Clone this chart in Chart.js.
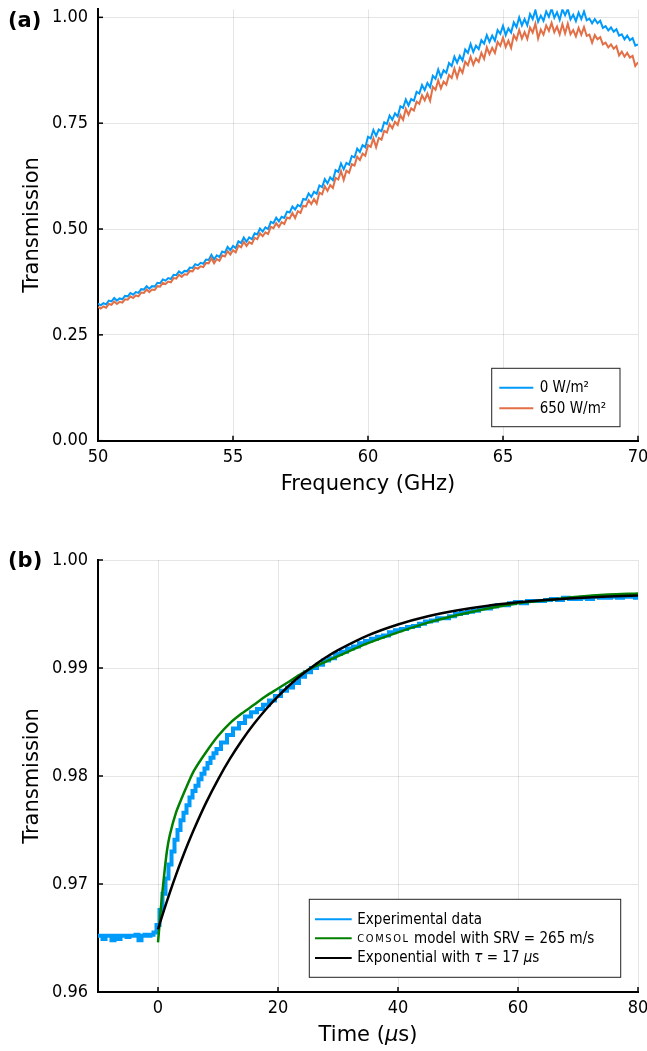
<!DOCTYPE html>
<html>
<head>
<meta charset="utf-8">
<title>Transmission</title>
<script src="https://cdn.jsdelivr.net/npm/chart.js@4/dist/chart.umd.min.js"></script>
<style>
  html,body{margin:0;padding:0;background:#fff;}
  canvas{display:block;}
</style>
</head>
<body>
<canvas id="chartA" width="647" height="520"></canvas>
<canvas id="chartB" width="647" height="531"></canvas>
<script>
/* ---- panel (a): frequency sweep ---- */
const freqGHz = [
  50.0,50.1,50.2,50.3,50.4,50.5,50.6,50.7,50.8,50.9,
  51.0,51.1,51.2,51.3,51.4,51.5,51.6,51.7,51.8,51.9,
  52.0,52.1,52.2,52.3,52.4,52.5,52.6,52.7,52.8,52.9,
  53.0,53.1,53.2,53.3,53.4,53.5,53.6,53.7,53.8,53.9,
  54.0,54.1,54.2,54.3,54.4,54.5,54.6,54.7,54.8,54.9,
  55.0,55.1,55.2,55.3,55.4,55.5,55.6,55.7,55.8,55.9,
  56.0,56.1,56.2,56.3,56.4,56.5,56.6,56.7,56.8,56.9,
  57.0,57.1,57.2,57.3,57.4,57.5,57.6,57.7,57.8,57.9,
  58.0,58.1,58.2,58.3,58.4,58.5,58.6,58.7,58.8,58.9,
  59.0,59.1,59.2,59.3,59.4,59.5,59.6,59.7,59.8,59.9,
  60.0,60.1,60.2,60.3,60.4,60.5,60.6,60.7,60.8,60.9,
  61.0,61.1,61.2,61.3,61.4,61.5,61.6,61.7,61.8,61.9,
  62.0,62.1,62.2,62.3,62.4,62.5,62.6,62.7,62.8,62.9,
  63.0,63.1,63.2,63.3,63.4,63.5,63.6,63.7,63.8,63.9,
  64.0,64.1,64.2,64.3,64.4,64.5,64.6,64.7,64.8,64.9,
  65.0,65.1,65.2,65.3,65.4,65.5,65.6,65.7,65.8,65.9,
  66.0,66.1,66.2,66.3,66.4,66.5,66.6,66.7,66.8,66.9,
  67.0,67.1,67.2,67.3,67.4,67.5,67.6,67.7,67.8,67.9,
  68.0,68.1,68.2,68.3,68.4,68.5,68.6,68.7,68.8,68.9,
  69.0,69.1,69.2,69.3,69.4,69.5,69.6,69.7,69.8,69.9,
  70.0
];
const trans0W = [
  .324,.320,.325,.322,.331,.329,.337,.331,.336,.334,
  .342,.341,.349,.345,.351,.349,.358,.357,.365,.359,
  .365,.364,.373,.372,.381,.378,.384,.382,.392,.391,
  .400,.395,.401,.400,.409,.408,.417,.414,.420,.418,
  .428,.427,.439,.428,.438,.434,.447,.444,.458,.450,
  .460,.455,.471,.467,.480,.470,.480,.476,.490,.487,
  .501,.494,.504,.500,.517,.514,.527,.518,.529,.526,
  .541,.539,.553,.546,.557,.553,.571,.569,.584,.576,
  .588,.583,.603,.599,.618,.608,.622,.615,.639,.635,
  .655,.641,.656,.652,.672,.669,.690,.682,.698,.693,
  .718,.714,.734,.720,.735,.731,.752,.748,.768,.758,
  .773,.766,.790,.786,.806,.792,.807,.803,.824,.820,
  .840,.828,.845,.835,.862,.855,.877,.859,.875,.869,
  .892,.885,.907,.893,.909,.898,.924,.916,.937,.918,
  .933,.925,.946,.938,.958,.942,.957,.945,.970,.961,
  .980,.958,.974,.964,.988,.977,1.000,.981,.996,.981,
  1.008,.996,1.017,.990,1.004,.992,1.014,1.001,1.021,.999,
  1.012,.994,1.019,1.005,1.020,.995,1.006,.991,1.011,.996,
  1.014,.993,.997,.986,.996,.986,.992,.975,.979,.969,
  .976,.966,.972,.957,.960,.948,.957,.946,.951,.933,
  .936
];
const trans650W = [
  .316,.312,.317,.314,.323,.321,.329,.323,.328,.326,
  .334,.333,.341,.337,.343,.341,.350,.349,.357,.351,
  .357,.356,.365,.364,.373,.370,.376,.374,.384,.383,
  .392,.387,.393,.392,.401,.400,.409,.406,.412,.410,
  .420,.419,.431,.419,.429,.425,.438,.435,.448,.440,
  .450,.445,.461,.457,.470,.460,.469,.465,.479,.476,
  .490,.483,.492,.488,.505,.502,.514,.505,.516,.512,
  .527,.525,.538,.526,.542,.538,.555,.553,.568,.559,
  .571,.560,.586,.582,.601,.590,.604,.597,.621,.617,
  .637,.616,.638,.633,.653,.650,.671,.663,.678,.673,
  .698,.694,.714,.693,.715,.711,.732,.728,.748,.738,
  .753,.746,.769,.758,.784,.770,.785,.780,.801,.796,
  .816,.804,.820,.803,.836,.829,.851,.832,.848,.841,
  .864,.857,.879,.858,.880,.869,.895,.887,.907,.888,
  .903,.895,.916,.902,.929,.913,.928,.916,.942,.933,
  .952,.930,.945,.928,.958,.947,.970,.950,.965,.949,
  .976,.964,.985,.950,.971,.959,.981,.968,.987,.965,
  .978,.960,.984,.962,.985,.960,.970,.955,.975,.959,
  .977,.956,.959,.940,.958,.948,.953,.936,.940,.929,
  .936,.926,.932,.910,.919,.907,.916,.905,.909,.885,
  .894
];
const xTicksA = [50, 55, 60, 65, 70];
const yTicksA = [0, 0.25, 0.5, 0.75, 1.0];

/* ---- panel (b): time response ---- */
const timeUs = [
  -10,-9.5,-9,-8.5,-8,-7.5,-7,-6.5,-6,-5.5,-5,-4.5,-4,-3.5,-3,-2.5,-2,-1.5,-1,-0.5,
  0,0.5,1,1.5,2,2.5,3,3.5,4,4.5,5,5.5,6,6.5,7,7.5,8,8.5,9,9.5,10,11,12,13,14,15,16,17,18,19,20,
  21,22,23,24,25,26,27,28,29,30,31,32,33,34,35,36,37,38,39,40,
  41,42,43,44,45,46,47,48,49,50,51,52,53,54,55,56,57,58,59,60,
  61,62,63,64,65,66,67,68,69,70,71,72,73,74,75,76,77,78,79,80
];
const expData = [
  .9652,.9652,.9649,.9652,.9652,.9648,.9652,.9649,.9652,.9652,.9651,.9652,.9652,.9653,.9648,.9652,.9653,.9652,.9653,.9655,
  .9662,.9676,.9691,.9705,.9718,.9730,.9741,.9750,.9759,.9766,.9773,.9780,.9786,.9791,.9797,.9802,.9807,.9812,.9817,.9821,.9825,.9831,.9838,.9844,.9849,.9855,.9859,.9862,.9866,.9870,.9874,
  .9879,.9882,.9886,.9892,.9896,.9900,.9903,.9907,.9909,.9913,.9915,.9918,.9920,.9923,.9925,.9927,.9929,.9930,.9933,.9935,
  .9936,.9938,.9939,.9941,.9943,.9944,.9946,.9946,.9948,.9950,.9951,.9952,.9953,.9955,.9955,.9957,.9958,.9958,.9960,.9961,
  .9960,.9962,.9962,.9962,.9963,.9964,.9963,.9965,.9964,.9964,.9965,.9964,.9966,.9965,.9965,.9966,.9965,.9966,.9966,.9965
];
const comsolT = [0,0.25,0.5,1,1.5,2,3,4,5,6,8,10,12,14,16,18,20,22,24,26,28,30,35,40,45,50,55,60,65,70,75,80];
const comsolY = [.9646,.9662,.9679,.9707,.9731,.9746,.9766,.9780,.9793,.9805,.9822,.9837,.9849,.9858,.9866,.9874,.9881,.9888,.9895,.9901,.9906,.9911,.9923,.9933,.9942,.9949,.9955,.9960,.9963,.9966,.9968,.9969];
const expoT = [0,1,2,3,4,5,6,8,10,12,14,16,18,20,22,24,26,28,30,35,40,45,50,55,60,65,70,75,80];
const expoY = [.9658,.96758,.96926,.97085,.97234,.97375,.97508,.97751,.97967,.98160,.98331,.98483,.98618,.98738,.98845,.98940,.99024,.99099,.99166,.99302,.99403,.99479,.99535,.99577,.99608,.99632,.99649,.99662,.99672];
const xTicksB = [0, 20, 40, 60, 80];
const yTicksB = [0.96, 0.97, 0.98, 0.99, 1.00];

/* ---- style ---- */
const BLUE = '#009AFA', ORANGE = '#E26F46', GREEN = '#008000', BLACK = '#000000';
const GRID = 'rgba(0,0,0,0.1)';
const FAM = '"DejaVu Sans", sans-serif';
const COND = '"DejaVu Sans Condensed", "DejaVu Sans", sans-serif';
const TICK_FONT = {family: COND, size: 18};
const TITLE_FONT = {family: FAM, size: 21};

const pairs = (xs, ys) => xs.map((x, i) => ({x, y: ys[i]}));

function xScale(min, max, ticks, height, pad, title) {
  return {
    type: 'linear', min, max,
    afterBuildTicks: s => { s.ticks = ticks.map(v => ({value: v})); },
    afterFit: s => { s.height = height; s.paddingLeft = 0; s.paddingRight = 0; },
    grid: {color: GRID, lineWidth: 1, drawTicks: false},
    border: {display: true, color: '#000', width: 2},
    ticks: {autoSkip: false, maxRotation: 0, minRotation: 0, padding: pad, color: '#000',
            font: TICK_FONT, callback: v => String(v)},
    title: title
  };
}
function yScale(min, max, ticks) {
  return {
    type: 'linear', min, max,
    afterBuildTicks: s => { s.ticks = ticks.map(v => ({value: v})); },
    afterFit: s => { s.width = 98; s.paddingTop = 0; s.paddingBottom = 0; },
    grid: {color: GRID, lineWidth: 1, drawTicks: false},
    border: {display: true, color: '#000', width: 2},
    ticks: {autoSkip: false, padding: 10, color: '#000', font: TICK_FONT, callback: v => v.toFixed(2)},
    title: {display: true, text: 'Transmission', color: '#000', font: TITLE_FONT, padding: {top: 20, bottom: 0}}
  };
}

// text made of several font runs
function drawRuns(ctx, x, y, runs) {
  runs.forEach(r => {
    ctx.font = r.font;
    ctx.letterSpacing = r.ls || '0px';
    ctx.fillText(r.t, x, y);
    x += ctx.measureText(r.t).width;
  });
  ctx.letterSpacing = '0px';
}
function runsWidth(ctx, runs) {
  let w = 0;
  runs.forEach(r => { ctx.font = r.font; ctx.letterSpacing = r.ls || '0px'; w += ctx.measureText(r.t).width; });
  ctx.letterSpacing = '0px';
  return w;
}

// inward tick marks, like the original plot
const innerTicks = {
  id: 'innerTicks',
  afterDraw(chart) {
    const {ctx, chartArea: a, scales: {x, y}} = chart;
    ctx.save();
    ctx.strokeStyle = '#000'; ctx.lineWidth = 1.5;
    x.ticks.forEach(t => {
      const px = x.getPixelForValue(t.value);
      ctx.beginPath(); ctx.moveTo(px, a.bottom); ctx.lineTo(px, a.bottom - 5); ctx.stroke();
    });
    y.ticks.forEach(t => {
      const py = y.getPixelForValue(t.value);
      ctx.beginPath(); ctx.moveTo(a.left, py); ctx.lineTo(a.left + 5, py); ctx.stroke();
    });
    ctx.restore();
  }
};

// panel letter + boxed legend
function decor(letter, letterY, box, rows, extra) {
  return {
    id: 'decor' + letter,
    afterDraw(chart) {
      const ctx = chart.ctx;
      ctx.save();
      ctx.fillStyle = '#000';
      ctx.textBaseline = 'middle';
      ctx.font = 'bold 21px ' + FAM;
      ctx.fillText(letter, 8, letterY);
      ctx.fillStyle = '#fff';
      ctx.fillRect(box.x, box.y, box.w, box.h);
      ctx.strokeStyle = '#222'; ctx.lineWidth = 1;
      ctx.strokeRect(box.x, box.y, box.w, box.h);
      rows.forEach(r => {
        ctx.strokeStyle = r.color; ctx.lineWidth = 2;
        ctx.beginPath(); ctx.moveTo(box.lx0, r.y); ctx.lineTo(box.lx1, r.y); ctx.stroke();
        ctx.fillStyle = '#000';
        drawRuns(ctx, box.tx, r.y + 0.5, r.runs);
      });
      if (extra) extra(chart, ctx);
      ctx.restore();
    }
  };
}

const LEG = '15px ' + COND;
const LEG_I = 'italic 15px ' + COND;

new Chart(document.getElementById('chartA'), {
  type: 'line',
  data: {
    datasets: [
      {label: '650 W/m²', data: pairs(freqGHz, trans650W), borderColor: ORANGE, borderWidth: 2,
       pointRadius: 0, tension: 0, fill: false},
      {label: '0 W/m²', data: pairs(freqGHz, trans0W), borderColor: BLUE, borderWidth: 2,
       pointRadius: 0, tension: 0, fill: false}
    ]
  },
  options: {
    responsive: false, animation: false,
    layout: {padding: {top: 9.3, right: 9, bottom: 0, left: 0}},
    plugins: {legend: {display: false}, tooltip: {enabled: false}},
    scales: {
      x: xScale(50, 70, xTicksA, 79.3, 6,
        {display: true, text: 'Frequency (GHz)', color: '#000', font: TITLE_FONT, padding: {top: 0, bottom: 23}}),
      y: yScale(0, 1.019, yTicksA)
    }
  },
  plugins: [innerTicks, decor('(a)', 22,
    {x: 491.7, y: 368.3, w: 128.3, h: 58.4, lx0: 499.3, lx1: 533.3, tx: 539.7},
    [{color: BLUE, y: 387.7, runs: [{t: '0 W/m²', font: LEG}]},
     {color: ORANGE, y: 408.3, runs: [{t: '650 W/m²', font: LEG}]}])]
});

new Chart(document.getElementById('chartB'), {
  type: 'line',
  data: {
    datasets: [
      {label: 'Exponential', data: pairs(expoT, expoY), borderColor: BLACK, borderWidth: 2.5,
       pointRadius: 0, tension: 0.3, fill: false},
      {label: 'COMSOL', data: pairs(comsolT, comsolY), borderColor: GREEN, borderWidth: 2.5,
       pointRadius: 0, tension: 0.3, fill: false},
      {label: 'Experimental data', data: pairs(timeUs, expData), borderColor: BLUE, borderWidth: 4,
       pointRadius: 0, stepped: 'middle', fill: false}
    ]
  },
  options: {
    responsive: false, animation: false,
    layout: {padding: {top: 40, right: 9, bottom: 0, left: 0}},
    plugins: {legend: {display: false}, tooltip: {enabled: false}},
    scales: {
      x: xScale(-10, 80, xTicksB, 59, 6, {display: false}),
      y: yScale(0.96, 1.00, yTicksB)
    }
  },
  plugins: [innerTicks, decor('(b)', 41.7,
    {x: 309.3, y: 379.3, w: 311.4, h: 78, lx0: 315, lx1: 351.7, tx: 357.3},
    [{color: BLUE, y: 399.3, runs: [{t: 'Experimental data', font: LEG}]},
     {color: GREEN, y: 418.3, runs: [{t: 'COMSOL', font: '11px ' + COND, ls: '1.6px'},
                                     {t: ' model with SRV = 265 m/s', font: LEG}]},
     {color: BLACK, y: 438, runs: [{t: 'Exponential with ', font: LEG}, {t: 'τ', font: LEG_I},
                                   {t: ' = 17 ', font: LEG}, {t: 'μ', font: LEG_I}, {t: 's', font: LEG}]}],
    (chart, ctx) => {
      // x-axis title with italic mu
      const runs = [{t: 'Time (', font: '21px ' + FAM}, {t: 'μ', font: 'italic 21px ' + FAM},
                    {t: 's)', font: '21px ' + FAM}];
      const a = chart.chartArea;
      const w = runsWidth(ctx, runs);
      ctx.fillStyle = '#000';
      ctx.textBaseline = 'alphabetic';
      drawRuns(ctx, (a.left + a.right) / 2 - w / 2, 521, runs);
    })]
});
</script>
</body>
</html>
